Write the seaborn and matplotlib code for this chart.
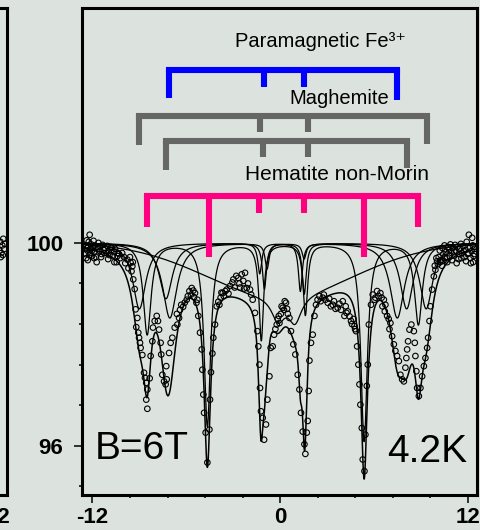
import numpy as np
import pandas as pd
import matplotlib
matplotlib.use("Agg")
import matplotlib.pyplot as plt
import seaborn as sns

# measured spectrum (velocity mm/s, relative transmission %)
vel_pts = [
    -12.45, -12.42, -12.40, -12.37, -12.33, -12.30, -12.27, -12.24, -12.18, -12.15,
    -12.12, -12.08, -12.03, -11.98, -11.93, -11.88, -11.84, -11.78, -11.73, -11.68,
    -11.62, -11.55, -11.49, -11.42, -11.35, -11.28, -11.20, -11.12, -11.05, -10.98,
    -10.92, -10.85, -10.78, -10.70, -10.62, -10.55, -10.45, -10.38, -10.30, -10.22,
    -9.98, -9.77, -9.56, -9.45, -9.39, -9.30, -9.24, -9.20, -9.13, -9.07,
    -9.02, -8.96, -8.92, -8.81, -8.70, -8.64, -8.56, -8.56, -8.49, -8.49,
    -8.34, -8.28, -8.17, -8.13, -8.02, -7.89, -7.81, -7.74, -7.64, -7.60,
    -7.53, -7.42, -7.32, -7.25, -7.28, -7.10, -7.00, -6.89, -6.74, -6.57,
    -6.46, -6.32, -6.20, -5.97, -5.65, -5.44, -5.29, -5.23, -5.12, -5.01,
    -4.97, -4.91, -4.86, -4.76, -4.65, -4.52, -4.48, -4.42, -4.33, -4.27,
    -4.16, -4.05, -3.88, -3.67, -3.41, -2.99, -2.67, -2.45, -2.24, -2.13,
    -1.92, -1.75, -1.60, -1.45, -1.39, -1.32, -1.28, -1.22, -1.11, -1.02,
    -0.90, -0.81, -0.68, -0.60, -0.47, -0.38, -0.21, -0.08, -0.04, 0.17,
    0.38, 0.60, 0.70, 0.85, 0.98, 1.13, 1.24, 1.34, 1.45, 1.56,
    1.62, 1.71, 1.77, 1.83, 1.88, 1.98, 2.09, 2.20, 2.30, 2.52,
    2.73, 3.05, 3.37, 3.69, 4.01, 4.12, 4.33, 4.54, 4.76, 4.86,
    4.93, 5.01, 5.08, 5.14, 5.23, 5.29, 5.40, 5.46, 5.55, 5.61,
    5.68, 5.82, 5.93, 6.04, 6.21, 6.42, 6.64, 6.74, 6.85, 7.06,
    7.17, 7.28, 7.38, 7.49, 7.60, 7.70, 7.81, 7.92, 8.02, 8.08,
    8.13, 8.19, 8.28, 8.40, 8.56, 8.62, 8.66, 8.72, 8.77, 8.88,
    8.98, 9.09, 9.20, 9.30, 9.41, 9.47, 9.56, 9.62, 9.73, 9.84,
    9.94, 10.05, 10.15, 10.22, 10.30, 10.38, 10.45, 10.52, 10.60, 10.68,
    10.75, 10.82, 10.90, 10.97, 11.05, 11.12, 11.20, 11.27, 11.34, 11.42,
    11.50, 11.57, 11.64, 11.72, 11.80, 11.87, 11.94, 12.00, 12.08, 12.14,
    12.20, 12.25, 12.29, 12.33, 12.38, 12.42,
    # second pass over the denser stretches
    -12.35, -12.20, -12.05, -11.90, -11.65, -11.45, -11.25, -11.00, -10.80, -10.60,
    -10.40, -10.10, -9.90, -9.70, -9.60, -9.50, -9.42,
    -6.60, -6.40, -6.10, -5.90, -5.80, -5.70, -5.55, -5.50, -5.35,
    -3.95, -3.80, -3.75, -3.60, -3.50, -3.30, -3.20, -3.05, -2.90, -2.80,
    -2.60, -2.55, -2.35, -2.30, -2.05, -1.85,
    -0.30, -0.15, 0.05, 0.10, 0.25, 0.30, 0.45, 0.50,
    2.40, 2.60, 2.80, 2.90, 3.15, 3.25, 3.45, 3.55, 3.80, 3.90,
    4.20, 4.25, 4.45, 4.60, 4.70, 4.80,
    6.10, 6.30, 6.50, 6.55, 6.70, 6.95, 7.00,
    9.90, 10.00, 10.10, 10.25, 10.35, 10.45, 10.55, 10.70, 10.85, 11.00,
    11.15, 11.30, 11.45, 11.60, 11.75, 11.90, 12.05, 12.18, 12.35, 12.45,
]
trans_pts = [
    99.78, 99.95, 99.70, 100.05, 99.85, 99.66, 99.92, 100.02, 100.16, 99.80,
    99.88, 99.97, 99.74, 99.90, 100.04, 99.83, 99.95, 99.72, 99.62, 99.88,
    100.00, 99.84, 99.93, 99.78, 99.96, 99.86, 99.90, 99.80, 99.94, 99.84,
    99.76, 99.92, 99.86, 99.74, 99.82, 99.88, 99.62, 99.80, 99.78, 99.70,
    99.72, 99.67, 99.61, 99.54, 99.28, 99.09, 98.69, 98.34, 98.52, 98.23,
    98.13, 98.03, 97.93, 97.79, 97.44, 97.34, 97.24, 96.91, 97.11, 96.73,
    97.33, 97.77, 98.06, 98.33, 98.46, 98.56, 98.46, 98.29, 98.03, 97.80,
    97.40, 97.27, 97.21, 97.31, 97.57, 97.83, 98.03, 98.13, 98.33, 98.39,
    98.52, 98.78, 98.74, 98.88, 99.11, 99.01, 98.88, 98.56, 98.23, 97.90,
    97.50, 97.01, 96.65, 96.26, 95.67, 96.32, 96.91, 97.45, 97.82, 98.13,
    98.39, 98.75, 98.78, 99.01, 99.08, 99.28, 99.31, 99.38, 99.41, 99.11,
    99.08, 98.88, 98.62, 98.26, 97.96, 97.60, 97.14, 96.68, 96.55, 96.12,
    96.42, 96.91, 97.37, 97.93, 97.96, 98.19, 98.39, 98.56, 98.42, 98.72,
    98.82, 98.52, 98.26, 98.00, 97.80, 97.40, 97.11, 96.65, 96.28, 96.03,
    95.84, 96.26, 96.49, 97.08, 97.68, 98.03, 98.19, 98.56, 98.78, 98.95,
    98.92, 98.82, 98.78, 98.72, 98.85, 98.56, 98.65, 98.46, 98.36, 98.26,
    97.96, 97.60, 97.21, 96.81, 96.35, 95.73, 95.50, 96.22, 97.18, 97.60,
    98.39, 98.78, 98.98, 98.88, 99.05, 99.01, 98.88, 98.78, 98.56, 98.42,
    98.16, 98.00, 97.87, 97.77, 97.67, 97.40, 97.31, 97.27, 97.54, 97.73,
    97.90, 98.06, 98.29, 98.39, 98.26, 98.03, 97.77, 97.47, 97.14, 96.98,
    97.14, 97.37, 97.57, 97.73, 97.93, 98.13, 98.46, 98.75, 99.08, 99.34,
    99.47, 99.64, 99.72, 99.85, 99.66, 99.90, 99.78, 99.95, 99.82, 99.70,
    99.92, 99.86, 99.97, 99.80, 99.90, 99.75, 99.96, 99.84, 99.92, 99.68,
    99.88, 99.98, 99.80, 99.93, 99.72, 99.86, 100.02, 99.78, 100.16, 99.90,
    99.60, 99.84, 100.10, 99.95, 99.74, 99.88,
    99.90, 99.76, 99.84, 99.70, 99.92, 99.72, 99.80, 99.68, 99.90, 99.62,
    99.74, 99.80, 99.60, 99.50, 99.72, 99.44, 99.62,
    98.60, 98.68, 98.82, 98.95, 99.05, 98.98, 99.06, 98.93, 98.82,
    98.84, 98.92, 99.02, 98.95, 99.05, 99.00, 99.15, 99.22, 99.12, 99.35,
    99.20, 99.12, 99.25, 99.10, 99.20, 98.98,
    98.30, 98.50, 98.60, 98.75, 98.68, 98.85, 98.70, 98.60,
    98.88, 98.85, 98.98, 98.88, 98.90, 98.75, 98.85, 98.70, 98.80, 98.68,
    98.75, 98.62, 98.55, 98.40, 98.50, 98.30,
    98.92, 98.95, 98.92, 98.75, 98.65, 98.50, 98.30,
    99.55, 99.70, 99.58, 99.62, 99.55, 99.65, 99.70, 99.62, 99.74, 99.66,
    99.82, 99.60, 99.78, 99.70, 99.84, 99.64, 99.80, 99.70, 99.62, 99.78,
]

# right edge of the neighbouring panel
left_vel = [12.12, 12.18, 12.24, 12.30, 12.36, 12.42, 12.47, 12.20, 12.33]
left_trans = [99.85, 100.02, 99.80, 99.95, 100.08, 99.88, 99.98, 99.72, 99.76]

# fitted sub-spectra: line centres (mm/s), depths (%), widths (mm/s)
hem_pos = [-8.50, -4.65, -1.20, 1.62, 5.38, 8.85]
hem_depth = [1.8, 3.6, 1.9, 1.4, 3.9, 1.6]
hem_width = [0.6, 0.5, 0.35, 0.35, 0.5, 0.6]

magA_pos = [-9.00, -1.30, 1.30, 9.35]
magA_depth = [1.3, 0.6, 0.95, 1.3]
magA_width = [1.0, 0.3, 0.3, 1.0]

magB_pos = [-7.30, -1.00, 1.55, 8.10]
magB_depth = [1.1, 0.9, 1.0, 1.3]
magB_width = [1.0, 0.3, 0.3, 1.0]

para_pos = [-7.05, -0.83, 1.54, 7.50]
para_depth = [1.48, 0.5, 0.3, 1.48]
para_width = [1.1, 0.3, 0.3, 1.1]

broad_centre, broad_depth, broad_sigma = 0.0, 1.05, 4.8
broad_pos = [-0.13, 0.96]
broad_line_depth = [0.45, 0.5]
broad_width = [1.0, 1.0]

# stick diagrams above the spectrum
para_legs = [-7.10, -1.02, 1.54, 7.49]
para_leg_end = [102.86, 103.07, 103.07, 102.82]
magA_legs = [-9.02, -1.28, 1.79, 9.41]
magA_leg_end = [101.93, 102.19, 102.19, 101.95]
magB_legs = [-7.30, -1.09, 1.79, 8.13]
magB_leg_end = [101.44, 101.69, 101.69, 101.48]
hem_legs = [-8.53, -4.54, -1.34, 1.54, 5.38, 8.83]
hem_leg_end = [100.32, 99.72, 100.59, 100.59, 99.72, 100.32]


def lorentz(v, pos, depth, width):
    out = np.zeros_like(v)
    for c, d, w in zip(pos, depth, width):
        out += d / (1 + (2 * (v - c) / w) ** 2)
    return out


def bracket(ax, legs, ends, top, color):
    ax.plot([legs[0], legs[-1]], [top, top], color=color, lw=4.4,
            solid_capstyle="projecting", zorder=5)
    for x, y in zip(legs, ends):
        ax.plot([x, x], [top, y], color=color, lw=4.4,
                solid_capstyle="butt", zorder=5)


bg = "#dce3df"
sns.set_theme(style="ticks")
plt.rcParams["font.family"] = ["Liberation Sans", "DejaVu Sans"]
plt.rcParams["axes.unicode_minus"] = False
plt.rcParams["text.color"] = "black"

v = np.linspace(-12.6, 12.6, 3000)
comps = {
    "hematite": lorentz(v, hem_pos, hem_depth, hem_width),
    "maghemite A": lorentz(v, magA_pos, magA_depth, magA_width),
    "maghemite B": lorentz(v, magB_pos, magB_depth, magB_width),
    "paramagnetic": lorentz(v, para_pos, para_depth, para_width),
    "broad": broad_depth * np.exp(-(v - broad_centre) ** 2 / (2 * broad_sigma ** 2))
    + lorentz(v, broad_pos, broad_line_depth, broad_width),
}
total = 100 - sum(comps.values())

fig = plt.figure(figsize=(4.8, 5.3), dpi=100, facecolor=bg)
ax = fig.add_axes([82 / 480, 35 / 530, 395 / 480, 487 / 530])
ax0 = fig.add_axes([-388 / 480, 35 / 530, 395 / 480, 487 / 530])

for a in (ax, ax0):
    a.set_facecolor(bg)
    a.set_xlim(-12.67, 12.6)
    a.set_ylim(95.03, 104.63)
    for s in a.spines.values():
        s.set_linewidth(2.2)
        s.set_color("black")
    a.tick_params(which="major", direction="out", length=5.5, width=1.1,
                  labelsize=16, color="black", labelcolor="black", pad=3)
    a.tick_params(which="minor", direction="out", length=2.5, width=1.1, color="black")
    a.tick_params(axis="y", pad=8)

for name, comp in comps.items():
    sns.lineplot(x=v, y=100 - comp, ax=ax, color="black", lw=0.9, errorbar=None)
sns.lineplot(x=v, y=total, ax=ax, color="black", lw=1.1, errorbar=None)

pts = pd.DataFrame({"velocity": vel_pts, "transmission": trans_pts})
sns.scatterplot(data=pts, x="velocity", y="transmission", ax=ax, s=16,
                facecolor="none", edgecolor="black", linewidth=0.8, zorder=4)
sns.scatterplot(x=left_vel, y=left_trans, ax=ax0, s=16,
                facecolor="none", edgecolor="black", linewidth=0.8)

bracket(ax, para_legs, para_leg_end, 103.41, "#0000ff")
bracket(ax, magA_legs, magA_leg_end, 102.50, "#666666")
bracket(ax, magB_legs, magB_leg_end, 102.01, "#666666")
bracket(ax, hem_legs, hem_leg_end, 100.93, "#ff0080")

ax.text(-2.88, 103.96, "Paramagnetic Fe³⁺", fontsize=14.5, va="center", ha="left",
        family=["Liberation Sans", "DejaVu Sans"])
ax.text(0.58, 102.84, "Maghemite", fontsize=14.5, va="center", ha="left")
ax.text(-2.24, 101.34, "Hematite non-Morin", fontsize=15, va="center", ha="left")
ax.text(0.033, 0.074, "B=6T", transform=ax.transAxes, fontsize=28,
        ha="left", va="baseline")
ax.text(0.975, 0.068, "4.2K", transform=ax.transAxes, fontsize=28,
        ha="right", va="baseline")

ax.set_xticks([-12, 0, 12])
ax.set_xticks([-9.6, -7.2, -4.8, -2.4, 2.4, 4.8, 7.2, 9.6], minor=True)
ax.set_yticks([96, 100])
ax.set_yticks([95.2, 96.8, 97.6, 98.4, 99.2], minor=True)
ax0.set_xticks([-12, 0, 12])
ax0.set_yticks([])
for a in (ax, ax0):
    a.set_xlabel("")
    a.set_ylabel("")
    for lab in a.get_xticklabels() + a.get_yticklabels():
        lab.set_fontweight("bold")

fig.savefig("out.png", dpi=100, facecolor=bg)
